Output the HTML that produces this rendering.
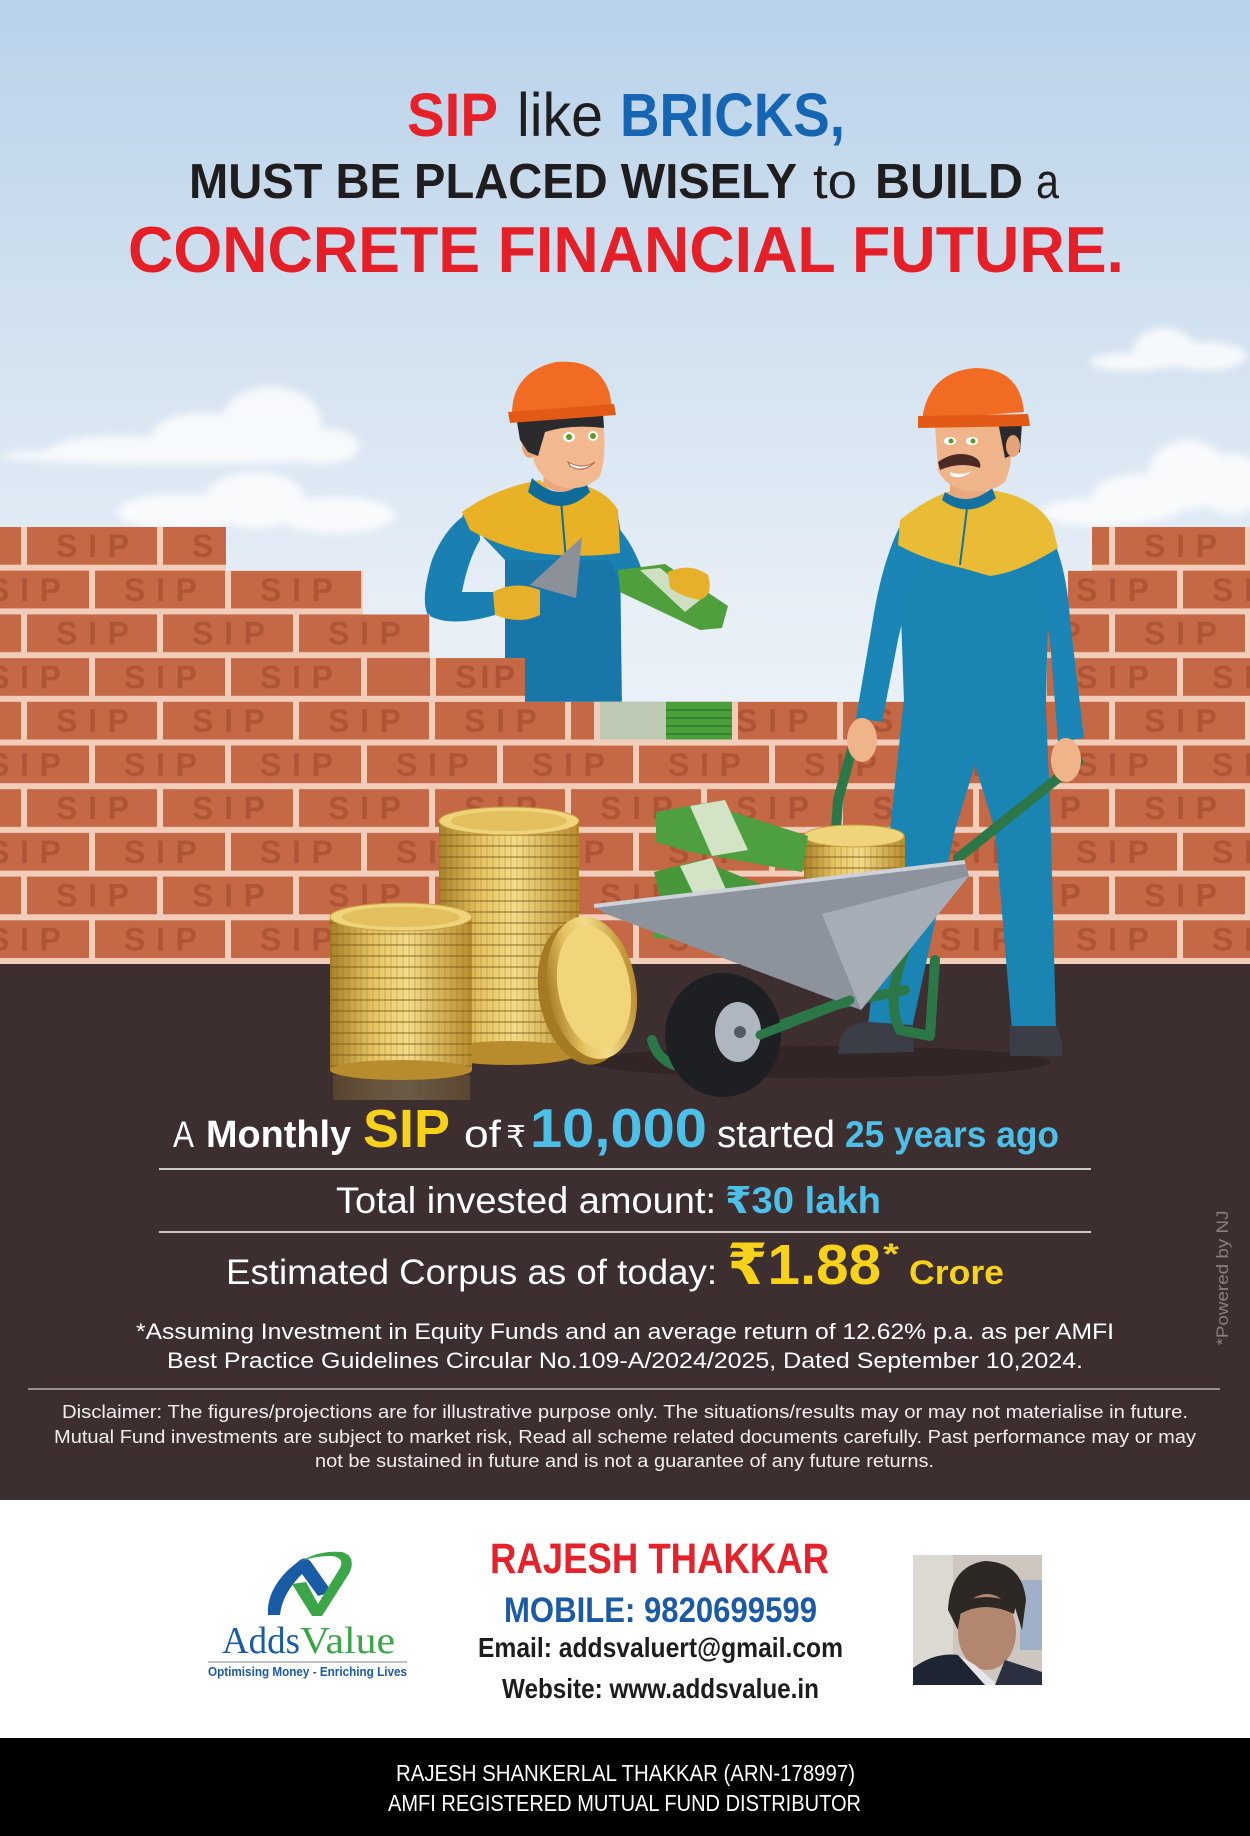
<!DOCTYPE html>
<html><head><meta charset="utf-8">
<style>
html,body{margin:0;padding:0;background:#fff}
svg{display:block}
text{font-family:"Liberation Sans","DejaVu Sans",sans-serif}
.b{font-weight:bold}
</style></head><body>
<svg width="1250" height="1836" viewBox="0 0 1250 1836" xmlns="http://www.w3.org/2000/svg">
<defs>
 <linearGradient id="sky" x1="0" y1="0" x2="0" y2="964" gradientUnits="userSpaceOnUse">
  <stop offset="0" stop-color="#b9d2ea"/>
  <stop offset="0.35" stop-color="#d3e2f0"/>
  <stop offset="0.65" stop-color="#e8eff7"/>
  <stop offset="1" stop-color="#edf2f7"/>
 </linearGradient>
 <pattern id="bricks" patternUnits="userSpaceOnUse" x="0" y="527" width="136" height="87.4">
  <rect width="136" height="87.4" fill="#f2cdb9"/>
  <rect x="27" y="0" width="130" height="37.7" fill="#c46846"/>
  <rect x="-109" y="0" width="130" height="37.7" fill="#c46846"/>
  <rect x="95" y="43.7" width="130" height="37.7" fill="#c46846"/>
  <rect x="-41" y="43.7" width="130" height="37.7" fill="#c46846"/>
  <g font-weight="bold" font-size="32" fill="#a0482a" fill-opacity="0.6">
   <text x="56" y="30" textLength="73" lengthAdjust="spacing">SIP</text>
   <text x="-12" y="73.7" textLength="73" lengthAdjust="spacing">SIP</text>
   <text x="124" y="73.7" textLength="73" lengthAdjust="spacing">SIP</text>
  </g>
 </pattern>
 <linearGradient id="gold" x1="0" x2="1" y1="0" y2="0">
  <stop offset="0" stop-color="#a9802a"/>
  <stop offset="0.3" stop-color="#e6c462"/>
  <stop offset="0.55" stop-color="#f5dc8a"/>
  <stop offset="1" stop-color="#b88c2c"/>
 </linearGradient>
 <pattern id="ribs" patternUnits="userSpaceOnUse" width="6" height="11">
  <rect x="0" y="9" width="6" height="2" fill="#7a5a18" fill-opacity=".45"/>
  <rect x="0" y="0" width="2" height="11" fill="#7a5a18" fill-opacity=".15"/>
 </pattern>
 <filter id="blur" x="-20%" y="-50%" width="140%" height="200%"><feGaussianBlur stdDeviation="4"/></filter>
</defs>

<!-- sky -->
<rect x="0" y="0" width="1250" height="964" fill="url(#sky)"/>
<g fill="#ffffff" opacity="0.8" filter="url(#blur)">
 <ellipse cx="271" cy="422" rx="50" ry="35"/>
 <ellipse cx="200" cy="437" rx="48" ry="24"/>
 <ellipse cx="120" cy="450" rx="70" ry="14"/>
 <ellipse cx="320" cy="446" rx="40" ry="18"/>
 <ellipse cx="175" cy="456" rx="175" ry="8"/>
 <ellipse cx="255" cy="500" rx="50" ry="28"/>
 <ellipse cx="180" cy="512" rx="62" ry="18"/>
 <ellipse cx="335" cy="515" rx="60" ry="18"/>
 <ellipse cx="1164" cy="348" rx="30" ry="20"/>
 <ellipse cx="1205" cy="356" rx="42" ry="14"/>
 <ellipse cx="1130" cy="362" rx="40" ry="9"/>
 <ellipse cx="1188" cy="475" rx="40" ry="35"/>
 <ellipse cx="1140" cy="498" rx="48" ry="24"/>
 <ellipse cx="1232" cy="484" rx="35" ry="30"/>
 <ellipse cx="1100" cy="512" rx="60" ry="14"/>
</g>

<!-- left worker (behind wall) -->
<g>
 <path d="M505,545 L620,548 L622,710 L505,710 Z" fill="#1877a8"/>
 <path d="M478,508 Q448,520 432,560 Q420,600 428,615 Q450,628 495,615 L497,592 L462,592 Q468,560 480,540 Z" fill="#1a7fb1"/>
 <path d="M462,515 L618,515 L625,560 L505,560 Z" fill="#1a7fb1"/>
 <path d="M600,512 Q628,530 642,570 L692,572 L694,592 L636,598 Q618,585 608,555 Z" fill="#1a7fb1"/>
 <path d="M462,512 Q495,488 540,480 L560,500 L578,484 Q606,490 618,510 L620,553 Q585,558 545,554 Q505,550 470,530 Z" fill="#e8b126"/>
 <path d="M545,465 L580,462 L582,485 Q562,500 543,484 Z" fill="#e8a77e"/>
 <path d="M532,478 Q560,505 585,480 L590,492 Q562,520 528,492 Z" fill="#0f6c9a"/>
 <path d="M561,500 L566,560" stroke="#0f6c9a" stroke-width="2"/>
 <path d="M528,420 L602,416 Q608,452 600,476 Q588,490 565,488 Q542,482 534,462 Z" fill="#f2b88f"/>
 <ellipse cx="530" cy="446" rx="8" ry="12" fill="#e6a279"/>
 <path d="M516,416 L603,412 L604,428 Q570,424 545,432 L538,456 L528,452 L520,440 Z" fill="#2b2a2d"/>
 <ellipse cx="569" cy="437" rx="6" ry="5" fill="#fff"/><circle cx="569" cy="437" r="3" fill="#5a9a2a"/>
 <ellipse cx="593" cy="436" rx="5" ry="5" fill="#fff"/><circle cx="593" cy="436" r="3" fill="#5a9a2a"/>
 <path d="M568,462 Q582,470 595,462 Q583,474 570,466 Z" fill="#fff" stroke="#b85f4a" stroke-width="1"/>
 <path d="M512,414 Q512,372 556,362 Q600,358 610,395 L612,408 Z" fill="#f26b22"/>
 <path d="M508,412 L614,404 L616,415 L510,423 Z" fill="#e35a17"/>
 <path d="M530,585 L582,537 L576,598 Z" fill="#8c9099"/>
 <path d="M493,592 Q515,580 540,590 L540,615 Q520,625 495,615 Z" fill="#e6b02a"/>
 <path d="M618,570 L665,564 L728,606 L722,628 L700,630 L620,592 Z" fill="#4f9f3d"/>
 <path d="M640,570 L660,568 L700,600 L685,612 Z" fill="#cfe0c2"/>
 <path d="M668,572 Q690,562 708,575 Q714,595 700,600 Q680,596 670,588 Z" fill="#e6b02a"/>
</g>

<!-- wall -->
<path d="M0,527 H226 V570.7 H363 V614.4 H430 V658.1 H525 V701.8 H1020 V614.4 H1068 V570.7 H1092 V527 H1250 V964 H0 Z" fill="url(#bricks)"/>
<rect x="361" y="658.1" width="164" height="43.7" fill="#f2cdb9"/>
<rect x="367" y="658.1" width="63" height="37.7" fill="#c46846"/>
<rect x="436" y="658.1" width="89" height="37.7" fill="#c46846"/>
<text x="455" y="688" font-size="32" class="b" fill="#a0482a" fill-opacity="0.6" textLength="60" lengthAdjust="spacing">SIP</text>
<!-- money brick -->
<rect x="594" y="701.8" width="144" height="43.7" fill="#f2cdb9"/>
<rect x="600" y="701.8" width="66" height="37.7" fill="#bccab4"/>
<rect x="666" y="701.8" width="66" height="37.7" fill="#4a9e3c"/>
<g stroke="#2f7a28" stroke-width="1.5"><line x1="666" y1="710" x2="732" y2="710"/><line x1="666" y1="718" x2="732" y2="718"/><line x1="666" y1="726" x2="732" y2="726"/><line x1="666" y1="734" x2="732" y2="734"/></g>

<!-- ground -->
<rect x="0" y="964" width="1250" height="536" fill="#3d2f30"/>
<ellipse cx="820" cy="1062" rx="230" ry="16" fill="#2a1f20" opacity=".6"/>

<!-- right worker -->
<g>
 <path d="M905,690 L1045,690 L1050,800 L1056,1030 L1012,1030 L995,830 L975,765 L955,830 L912,1028 L868,1026 L890,830 Z" fill="#1a84b3"/>
 <path d="M898,530 L1050,530 L1046,702 L904,702 Z" fill="#1a84b3"/>
 <path d="M902,522 Q882,560 872,625 L856,718 L882,722 L898,640 Q908,595 920,560 Z" fill="#1b86b6"/>
 <path d="M1042,518 Q1066,555 1070,620 L1084,738 L1058,742 L1050,640 L1035,565 Z" fill="#1b86b6"/>
 <path d="M900,520 Q930,496 955,490 L970,498 L990,490 Q1035,496 1052,525 L1058,548 Q1020,572 990,576 L962,568 Q925,560 898,545 Z" fill="#eabb34"/>
 <path d="M950,478 L985,478 L987,498 Q968,508 950,498 Z" fill="#e8a77e"/>
 <path d="M945,492 Q968,508 992,488 L996,498 Q968,520 942,500 Z" fill="#1572a0"/>
 <path d="M968,500 L960,565" stroke="#1572a0" stroke-width="2"/>
 <path d="M935,425 L1010,422 Q1015,460 1005,482 Q990,494 965,491 Q945,486 938,470 Z" fill="#f0b48b"/>
 <path d="M998,422 L1022,424 L1020,452 L1005,458 Z" fill="#2b2a2d"/>
 <ellipse cx="1013" cy="446" rx="7" ry="11" fill="#e6a279"/>
 <ellipse cx="950" cy="441" rx="6" ry="4" fill="#fff"/><circle cx="951" cy="441" r="2.5" fill="#5a9a2a"/>
 <ellipse cx="972" cy="441" rx="6" ry="4" fill="#fff"/><circle cx="973" cy="441" r="2.5" fill="#5a9a2a"/>
 <path d="M938,462 Q955,450 972,456 Q982,460 980,468 Q960,461 940,470 Z" fill="#4a2a22"/>
 <path d="M950,472 Q962,476 972,471 Q962,480 951,476 Z" fill="#fff"/>
 <path d="M922,420 Q928,372 975,368 Q1020,368 1024,412 Z" fill="#f26b22"/>
 <path d="M918,416 L1028,414 L1030,426 L918,428 Z" fill="#e35a17"/>
 <path d="M840,1040 Q845,1022 870,1022 L912,1025 L914,1052 L838,1054 Z" fill="#3b3e47"/>
 <path d="M1010,1026 L1056,1026 Q1064,1040 1062,1056 L1010,1056 Z" fill="#3b3e47"/>
</g>

<!-- wheelbarrow frame -->
<g fill="none" stroke="#2b7748" stroke-width="10" stroke-linecap="round" stroke-linejoin="round">
 <path d="M856,735 L838,800 L830,920"/>
 <path d="M1078,762 L958,858"/>
 <path d="M652,1040 Q660,1070 700,1068 L749,1037 L834,1005 L905,990"/>
 <path d="M905,950 Q885,1000 900,1030 L930,1036 L935,960"/>
</g>

<!-- coins in tray & money -->
<rect x="804" y="836" width="101" height="100" fill="url(#gold)"/>
<rect x="804" y="836" width="101" height="100" fill="url(#ribs)"/>
<ellipse cx="854" cy="836" rx="50" ry="11" fill="#f0d47c" stroke="#c9a040"/>
<path d="M656,812 L705,803 L808,836 L802,872 L690,852 L656,842 Z" fill="#4e9f3f"/>
<path d="M690,806 L725,800 L748,850 L712,856 Z" fill="#d2e3c6"/>
<path d="M654,872 L700,860 L800,900 L795,932 L660,898 Z" fill="#47983a"/>
<path d="M680,866 L712,858 L736,912 L704,916 Z" fill="#d2e3c6"/>
<path d="M654,915 L690,905 L780,932 L770,946 L654,938 Z" fill="#4e9f3f"/>

<!-- tray -->
<path d="M594,906 L965,862 L969,876 L861,1010 L606,914 Z" fill="#8d939d"/>
<path d="M822,914 L969,876 L861,1010 Z" fill="#a7adb6"/>
<path d="M594,906 L965,862" stroke="#cdd2d9" stroke-width="4"/>

<!-- wheel -->
<ellipse cx="723" cy="1035" rx="58" ry="62" fill="#1e1f22"/>
<ellipse cx="738" cy="1032" rx="23" ry="30" fill="#aeb6c0"/>
<circle cx="740" cy="1032" r="6" fill="#555a62"/>
<path d="M760,1035 L850,1000" stroke="#2b7748" stroke-width="9" stroke-linecap="round"/>

<!-- hands on handles -->
<ellipse cx="862" cy="740" rx="15" ry="22" fill="#f0b48b"/>
<ellipse cx="1066" cy="760" rx="15" ry="22" fill="#f0b48b"/>

<!-- coin stacks -->
<rect x="439" y="821" width="140" height="232" fill="url(#gold)"/>
<rect x="439" y="821" width="140" height="232" fill="url(#ribs)"/>
<ellipse cx="509" cy="1053" rx="70" ry="12" fill="#b88c2c"/>
<ellipse cx="509" cy="821" rx="70" ry="14" fill="#f0d47c" stroke="#c9a040"/>
<ellipse cx="509" cy="821" rx="58" ry="10" fill="#e3bf5e"/>
<g transform="rotate(-10 590 988)">
 <ellipse cx="582" cy="992" rx="44" ry="72" fill="#a47b22"/>
 <ellipse cx="592" cy="988" rx="44" ry="72" fill="url(#gold)"/>
 <ellipse cx="594" cy="988" rx="36" ry="62" fill="#f2d47a"/>
</g>
<rect x="333" y="1075" width="137" height="25" fill="url(#gold)" opacity=".25"/>
<rect x="330" y="917" width="142" height="153" fill="url(#gold)"/>
<rect x="330" y="917" width="142" height="153" fill="url(#ribs)"/>
<ellipse cx="401" cy="1070" rx="71" ry="10" fill="#b88c2c"/>
<ellipse cx="401" cy="917" rx="71" ry="14" fill="#f0d47c" stroke="#c9a040"/>
<ellipse cx="401" cy="917" rx="59" ry="10" fill="#e3bf5e"/>

<!-- header text -->
<text x="407" y="136" font-size="61" class="b" fill="#e62129" textLength="91" lengthAdjust="spacingAndGlyphs">SIP</text>
<text x="517" y="136" font-size="61" fill="#1f1d1e" textLength="86" lengthAdjust="spacingAndGlyphs">like</text>
<text x="620" y="136" font-size="61" class="b" fill="#1565b2" textLength="225" lengthAdjust="spacingAndGlyphs">BRICKS,</text>
<text x="189" y="198" font-size="49" class="b" fill="#1f1d1e" textLength="608" lengthAdjust="spacingAndGlyphs">MUST BE PLACED WISELY</text>
<text x="813" y="198" font-size="49" fill="#1f1d1e" textLength="44" lengthAdjust="spacingAndGlyphs">to</text>
<text x="875" y="198" font-size="49" class="b" fill="#1f1d1e" textLength="148" lengthAdjust="spacingAndGlyphs">BUILD</text>
<text x="1036" y="198" font-size="49" fill="#1f1d1e" textLength="23" lengthAdjust="spacingAndGlyphs">a</text>
<text x="128" y="272" font-size="65" class="b" fill="#e51f27" textLength="996" lengthAdjust="spacingAndGlyphs">CONCRETE FINANCIAL FUTURE.</text>

<!-- main figures -->
<text x="173" y="1147" font-size="37" fill="#fff" textLength="21" lengthAdjust="spacingAndGlyphs">A</text>
<text x="206" y="1147" font-size="38" class="b" fill="#fff" textLength="145" lengthAdjust="spacingAndGlyphs">Monthly</text>
<text x="363" y="1147" font-size="54" class="b" fill="#f8d21a" textLength="87" lengthAdjust="spacingAndGlyphs">SIP</text>
<text x="464" y="1147" font-size="38" fill="#fff" textLength="37" lengthAdjust="spacingAndGlyphs">of</text>
<text x="506" y="1147" font-size="30" fill="#fff" textLength="20" lengthAdjust="spacingAndGlyphs">₹</text>
<text x="530" y="1147" font-size="55" class="b" fill="#4dc0ea" textLength="177" lengthAdjust="spacingAndGlyphs">10,000</text>
<text x="717" y="1147" font-size="38" fill="#fff" textLength="118" lengthAdjust="spacingAndGlyphs">started</text>
<text x="845" y="1147" font-size="37" class="b" fill="#4dc0ea" textLength="214" lengthAdjust="spacingAndGlyphs">25 years ago</text>
<line x1="159" y1="1169" x2="1091" y2="1169" stroke="#d0c8c8" stroke-width="2"/>
<text x="336" y="1213" font-size="37" fill="#fff" textLength="380" lengthAdjust="spacingAndGlyphs">Total invested amount:</text>
<text x="725" y="1213" font-size="37" class="b" fill="#4dc0ea" textLength="156" lengthAdjust="spacingAndGlyphs">₹30 lakh</text>
<line x1="159" y1="1232" x2="1091" y2="1232" stroke="#d0c8c8" stroke-width="2"/>
<text x="226" y="1284" font-size="35" fill="#fff" textLength="491" lengthAdjust="spacingAndGlyphs">Estimated Corpus as of today:</text>
<text x="727" y="1284" font-size="57" class="b" fill="#f8d21a" textLength="154" lengthAdjust="spacingAndGlyphs">₹1.88</text>
<text x="883" y="1264" font-size="30" class="b" fill="#f8d21a" textLength="16" lengthAdjust="spacingAndGlyphs">*</text>
<text x="909" y="1284" font-size="34" class="b" fill="#f8d21a" textLength="95" lengthAdjust="spacingAndGlyphs">Crore</text>
<text x="136" y="1339" font-size="22" fill="#fff" textLength="978" lengthAdjust="spacingAndGlyphs">*Assuming Investment in Equity Funds and an average return of 12.62% p.a. as per AMFI</text>
<text x="167" y="1368" font-size="22" fill="#fff" textLength="916" lengthAdjust="spacingAndGlyphs">Best Practice  Guidelines Circular No.109-A/2024/2025, Dated September 10,2024.</text>
<line x1="28" y1="1389" x2="1220" y2="1389" stroke="#9a9090" stroke-width="2"/>
<text x="62" y="1418" font-size="18" fill="#f2eded" textLength="1126" lengthAdjust="spacingAndGlyphs">Disclaimer: The figures/projections are for illustrative purpose only. The situations/results may or may not materialise in future.</text>
<text x="54" y="1443" font-size="18" fill="#f2eded" textLength="1142" lengthAdjust="spacingAndGlyphs">Mutual Fund investments are subject to market risk, Read all scheme related documents carefully. Past performance may or may</text>
<text x="315" y="1467" font-size="18" fill="#f2eded" textLength="619" lengthAdjust="spacingAndGlyphs">not be sustained in future and is not a guarantee of any future returns.</text>
<text transform="translate(1228,1278) rotate(-90)" x="0" y="0" font-size="17" fill="#8a7e7f" text-anchor="middle" textLength="135" lengthAdjust="spacingAndGlyphs">*Powered by NJ</text>

<!-- white contact section -->
<rect x="0" y="1500" width="1250" height="238" fill="#ffffff"/>
<!-- logo -->
<path d="M268,1615 Q266,1592 288,1570 L300,1560 Q306,1556 311,1562 L332,1592 L318,1596 L302,1574 Q282,1594 280,1615 Z" fill="#1a5ba5"/>
<path d="M292,1584 L306,1582 L318,1604 L340,1568 Q345,1558 332,1556 Q312,1556 300,1562 Q318,1550 342,1552 Q356,1556 350,1572 L322,1616 L312,1616 Z" fill="#3aa648"/>
<text x="222" y="1653" font-size="38" fill="#1a5ba5" textLength="78" lengthAdjust="spacingAndGlyphs" style="font-family:'Liberation Serif',serif">Adds</text>
<text x="300" y="1653" font-size="38" fill="#3aa648" textLength="95" lengthAdjust="spacingAndGlyphs" style="font-family:'Liberation Serif',serif">Value</text>
<line x1="208" y1="1662" x2="407" y2="1662" stroke="#a9b0b8" stroke-width="1.5"/>
<text x="208" y="1676" font-size="13" class="b" fill="#1c5aa5" textLength="199" lengthAdjust="spacingAndGlyphs">Optimising Money - Enriching Lives</text>
<!-- contact -->
<text x="490" y="1573" font-size="43" class="b" fill="#e5222b" textLength="339" lengthAdjust="spacingAndGlyphs">RAJESH THAKKAR</text>
<text x="504" y="1622" font-size="35" class="b" fill="#1b5aa5" textLength="313" lengthAdjust="spacingAndGlyphs">MOBILE: 9820699599</text>
<text x="478" y="1657" font-size="28" class="b" fill="#1d1d1d" textLength="365" lengthAdjust="spacingAndGlyphs">Email: addsvaluert@gmail.com</text>
<text x="502" y="1698" font-size="28" class="b" fill="#1d1d1d" textLength="317" lengthAdjust="spacingAndGlyphs">Website: www.addsvalue.in</text>
<!-- photo -->
<rect x="913" y="1555" width="129" height="130" fill="#cdc7c0"/>
<rect x="913" y="1555" width="40" height="130" fill="#dcd8d2"/>
<rect x="1020" y="1580" width="22" height="70" fill="#9fb0c8"/>
<path d="M948,1610 Q950,1566 985,1561 Q1022,1562 1026,1600 L1022,1630 L1014,1604 Q985,1596 962,1606 L958,1630 Z" fill="#2d2824"/>
<ellipse cx="987" cy="1632" rx="29" ry="38" fill="#b3866f"/>
<path d="M958,1604 Q985,1590 1016,1604 L1014,1614 Q985,1600 960,1614 Z" fill="#2d2824"/>
<path d="M913,1685 L913,1668 Q935,1652 958,1655 L990,1685 Z" fill="#1f2433"/>
<path d="M958,1655 L975,1665 L998,1685 L985,1685 Z" fill="#e6e6ea"/>
<path d="M1005,1660 L1042,1672 L1042,1685 L995,1685 Z" fill="#2a3040"/>

<!-- black footer -->
<rect x="0" y="1738" width="1250" height="98" fill="#000"/>
<text x="396" y="1781" font-size="23" fill="#fff" textLength="459" lengthAdjust="spacingAndGlyphs">RAJESH SHANKERLAL THAKKAR (ARN-178997)</text>
<text x="388" y="1811" font-size="23" fill="#fff" textLength="473" lengthAdjust="spacingAndGlyphs">AMFI REGISTERED MUTUAL FUND DISTRIBUTOR</text>
</svg>
</body></html>
